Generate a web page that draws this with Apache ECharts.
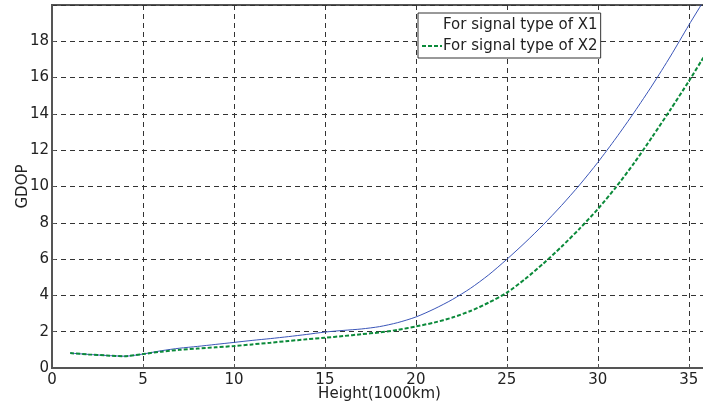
<!DOCTYPE html>
<html>
<head>
<meta charset="utf-8">
<script src="https://cdn.jsdelivr.net/npm/echarts@6/dist/echarts.min.js"></script>
<style>
  html, body { margin: 0; padding: 0; background: #fff; }
  #chart { width: 703px; height: 410px; }
</style>
</head>
<body>
<div id="chart"></div>
<script>
// Satellite height (thousands of km)
const heights = [1, 2, 3, 4, 5, 6, 7, 8, 9, 10, 11, 12, 13, 14, 15, 16, 17, 18,
  19, 20, 21, 22, 23, 24, 25, 26, 27, 28, 29, 30, 31, 32, 33, 34, 35, 35.8];

// GDOP for signal type X1
const gdopX1 = [0.82, 0.75, 0.69, 0.65, 0.77, 0.95, 1.09, 1.19, 1.30, 1.41, 1.52,
  1.62, 1.73, 1.85, 1.98, 2.07, 2.15, 2.28, 2.50, 2.81, 3.25, 3.77, 4.39, 5.13,
  5.99, 6.91, 7.89, 8.95, 10.09, 11.33, 12.67, 14.09, 15.59, 17.19, 18.89, 20.2];

// GDOP for signal type X2
const gdopX2 = [0.82, 0.75, 0.69, 0.65, 0.77, 0.90, 1.00, 1.07, 1.14, 1.21, 1.30,
  1.39, 1.49, 1.58, 1.67, 1.76, 1.86, 1.96, 2.10, 2.29, 2.50, 2.78, 3.14, 3.60,
  4.15, 4.90, 5.75, 6.68, 7.68, 8.76, 9.97, 11.30, 12.75, 14.25, 15.80, 17.1];

const seriesNames = ['For signal type of X1', 'For signal type of X2'];
const xAxisTitle = 'Height(1000km)';
const yAxisTitle = 'GDOP';

const pairs = (xs, ys) => xs.map((x, i) => [x, ys[i]]);

const font = '"DejaVu Sans", "Liberation Sans", Arial, sans-serif';
const textColor = '#222';
const frame = '#555';
const gridDash = { color: '#333', width: 1, type: [5, 4] };

const chart = echarts.init(document.getElementById('chart'), null, { renderer: 'canvas' });
chart.setOption({
  animation: false,
  backgroundColor: '#fff',
  textStyle: { fontFamily: font },
  grid: {
    left: 52, top: 5, right: -4, bottom: 42,
    outerBoundsMode: 'none',
    containLabel: false,
    show: true, borderColor: frame, borderWidth: 2, backgroundColor: 'transparent'
  },
  legend: {
    orient: 'vertical',
    left: 418, top: 13,
    padding: [3, 3, 3, 3],
    itemGap: 3,
    itemWidth: 20,
    itemHeight: 10,
    borderColor: '#333', borderWidth: 1,
    backgroundColor: '#fff',
    itemStyle: { opacity: 0 },
    textStyle: { fontFamily: font, fontSize: 15, color: textColor, lineHeight: 18, padding: [0, 0, 0, -4] },
    data: [
      { name: seriesNames[0], lineStyle: { opacity: 0 } },
      { name: seriesNames[1] }
    ]
  },
  xAxis: {
    type: 'value',
    min: 0, max: 36, interval: 5,
    name: xAxisTitle,
    nameLocation: 'middle',
    nameGap: 19,
    nameMoveOverlap: false,
    nameTextStyle: { fontFamily: font, fontSize: 15, color: textColor },
    axisLine: { show: true, lineStyle: { color: frame, width: 2 } },
    axisTick: { show: true, inside: true, length: 4, lineStyle: { color: frame } },
    axisLabel: { fontFamily: font, fontSize: 15, color: textColor, margin: 5, showMaxLabel: false },
    splitLine: { show: true, lineStyle: gridDash }
  },
  yAxis: {
    type: 'value',
    min: 0, max: 20, interval: 2,
    name: yAxisTitle,
    nameLocation: 'middle',
    nameGap: 21,
    nameMoveOverlap: false,
    nameRotate: 90,
    nameTextStyle: { fontFamily: font, fontSize: 15, color: textColor },
    axisLine: { show: true, lineStyle: { color: frame, width: 2 } },
    axisTick: { show: true, inside: true, length: 4, lineStyle: { color: frame } },
    axisLabel: { fontFamily: font, fontSize: 15, color: textColor, margin: 3, showMaxLabel: false },
    splitLine: { show: true, lineStyle: gridDash }
  },
  series: [
    {
      name: seriesNames[0],
      type: 'line',
      data: pairs(heights, gdopX1),
      symbol: 'none',
      smooth: 0.25,
      lineStyle: { color: '#3a55b8', width: 1 },
      itemStyle: { color: '#3a55b8' }
    },
    {
      name: seriesNames[1],
      type: 'line',
      data: pairs(heights, gdopX2),
      symbol: 'none',
      smooth: 0.25,
      lineStyle: { color: '#0b8a3a', width: 2, type: [4, 2] },
      itemStyle: { color: '#0b8a3a' }
    }
  ]
});
</script>
</body>
</html>
